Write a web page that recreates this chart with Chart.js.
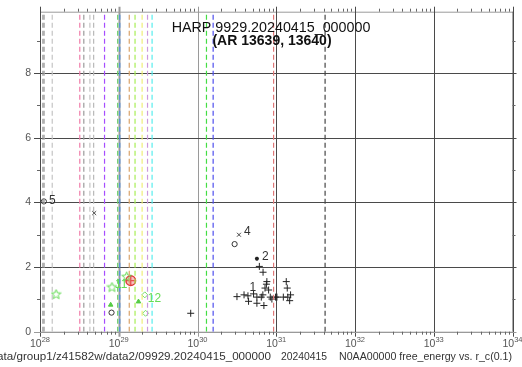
<!DOCTYPE html>
<html>
<head>
<meta charset="utf-8">
<script src="https://cdn.jsdelivr.net/npm/chart.js@4/dist/chart.umd.min.js"></script>
<style>
  html, body { margin: 0; padding: 0; background: #fff; }
  #wrap { width: 522px; height: 367px; position: relative; }
</style>
</head>
<body>
<div id="wrap"><canvas id="c" width="522" height="367"></canvas></div>
<script>
// ---- axis values ----
const xDecades = [1e28, 1e29, 1e30, 1e31, 1e32, 1e33, 1e34];
const xDecadeExp = ['28', '29', '30', '31', '32', '33', '34'];
const yTicks = [0, 2, 4, 6, 8];
const yMinor = [1, 3, 5, 7, 9];
const yMax = 9.9;

// ---- threshold markers (vertical dashed lines) ----
const thresholdX = [1.09e28, 1.13e28, 1.43e28, 3.2e28, 3.6e28, 4.3e28, 4.8e28, 6.6e28,
                    9.7e28, 1.03e29, 1.36e29, 1.61e29, 1.98e29, 2.32e29, 2.65e29,
                    1.30e30, 1.58e30, 9.25e30, 4.17e31];
const thresholdColor = ['#8f8f8f', '#a8a8a8', '#c4c4c4', '#f07aa8', '#9a9a9a', '#c4c4c4', '#b8b8b8', '#a64dff',
                        '#66cc66', '#4f8fe6', '#d9a36a', '#a6ee55', '#eeee77', '#cc99dd', '#55eeee',
                        '#44dd44', '#4d4dee', '#e07777', '#444444'];

// ---- events: free energy vs r_c ----
const plusX = [8.2e29, 6.1e30, 6.8e30, 7.6e30, 7.5e30, 7.2e30, 8.0e30, 3.17e30, 3.9e30, 4.37e30,
               4.45e30, 5.15e30, 5.68e30, 5.68e30, 6.46e30, 6.76e30, 6.97e30, 8.4e30, 8.8e30,
               9.8e30, 1.02e31, 1.23e31, 1.34e31, 1.38e31, 1.4e31, 1.52e31, 1.48e31];
const plusY = [0.57, 2.02, 1.84, 1.55, 1.47, 1.35, 1.29, 1.085, 1.14, 1.11,
               0.94, 1.17, 1.07, 0.88, 1.07, 1.14, 0.81, 1.07, 1.01,
               1.07, 1.07, 1.07, 1.55, 1.35, 1.07, 1.14, 0.96];
const circleX = [1.12e28, 8.1e28, 2.96e30];
const circleY = [4.03, 0.59, 2.71];
const xMarkX = [4.88e28, 3.36e30];
const xMarkY = [3.67, 3.0];
const asteriskX = [5.68e30];
const asteriskY = [2.26];
const starX = [1.6e28, 8.2e28, 1.26e29];
const starY = [1.16, 1.38, 1.705];
const triangleX = [7.9e28, 1.78e29];
const triangleY = [0.83, 0.93];
const diamondX = [2.14e29, 2.19e29];
const diamondY = [1.14, 0.57];
const currentX = [1.42e29];
const currentY = [1.58];

// ---- point annotations ----
const noteText = ['5', '4', '2', '1', '11', '12'];
const noteX = [1.12e28, 3.36e30, 5.68e30, 5.15e30, 8.2e28, 2.14e29];
const noteY = [4.03, 3.0, 2.26, 1.17, 1.38, 1.14];

const pts = (xs, ys) => xs.map((v, i) => ({ x: v, y: ys[i] }));

// outlined five-point star used as a point glyph
function starGlyph(color) {
  const c = document.createElement('canvas');
  c.width = 11; c.height = 11;
  const g = c.getContext('2d');
  g.strokeStyle = color; g.lineWidth = 1;
  g.beginPath();
  for (let k = 0; k < 10; k++) {
    const r = k % 2 === 0 ? 5 : 2.2;
    const ang = -Math.PI / 2 + k * Math.PI / 5;
    const px = 5.5 + r * Math.cos(ang), py = 5.8 + r * Math.sin(ang);
    if (k === 0) g.moveTo(px, py); else g.lineTo(px, py);
  }
  g.closePath();
  g.stroke();
  return c;
}

const datasets = [];
thresholdX.forEach((v, i) => {
  datasets.push({
    data: [{ x: v, y: 0 }, { x: v, y: yMax }],
    showLine: true, borderColor: thresholdColor[i], borderWidth: 1.2,
    borderDash: [5, 3], pointRadius: 0, fill: false
  });
});
datasets.push({ data: pts(plusX, plusY), pointStyle: 'cross', pointRadius: 3.5,
  borderColor: '#222', borderWidth: 1 });
datasets.push({ data: pts(circleX, circleY), pointStyle: 'circle', pointRadius: 2.6,
  borderColor: '#333', backgroundColor: 'rgba(0,0,0,0)', borderWidth: 1 });
datasets.push({ data: pts(xMarkX, xMarkY), pointStyle: 'crossRot', pointRadius: 2.8,
  borderColor: '#444', borderWidth: 1 });
datasets.push({ data: pts(asteriskX, asteriskY), pointStyle: 'star', pointRadius: 2,
  borderColor: '#222', borderWidth: 1.2 });
datasets.push({ data: pts(starX, starY), pointStyle: starGlyph('#5fd94f'), pointRadius: 5 });
datasets.push({ data: pts(triangleX, triangleY), pointStyle: 'triangle', pointRadius: 2.6,
  borderColor: '#55cc44', backgroundColor: '#55cc44', borderWidth: 1 });
datasets.push({ data: pts(diamondX, diamondY), pointStyle: 'rectRot', pointRadius: 3,
  borderColor: '#77dd66', backgroundColor: 'rgba(0,0,0,0)', borderWidth: 1 });
datasets.push({ data: pts(currentX, currentY), pointStyle: 'circle', pointRadius: 4.8,
  borderColor: '#e03a3a', backgroundColor: 'rgba(240,110,110,0.45)', borderWidth: 1.5 });
datasets.push({ data: pts(currentX, currentY), pointStyle: 'cross', pointRadius: 4.8,
  borderColor: '#e03a3a', borderWidth: 1.3 });

const FONT = '"Liberation Sans", Arial, sans-serif';

// Draw text stretched horizontally to span a given width
function fitText(ctx, text, x0, width, yb) {
  const w = ctx.measureText(text).width;
  ctx.save();
  ctx.translate(x0, yb);
  ctx.scale(width / w, 1);
  ctx.textAlign = 'left';
  ctx.fillText(text, 0, 0);
  ctx.restore();
}

// Frame, grid and outward ticks, all placed through the chart scales
const frame = {
  id: 'frame',
  beforeDatasetsDraw(chart) {
    const { ctx, chartArea: a, scales: { x, y } } = chart;
    ctx.save();
    ctx.lineWidth = 1;
    ctx.strokeStyle = '#9a9a9a';
    ctx.beginPath();
    ctx.moveTo(a.left + 0.5, a.bottom + 0.5); ctx.lineTo(a.left + 0.5, a.top + 0.5);
    ctx.lineTo(a.right + 0.5, a.top + 0.5);
    ctx.moveTo(a.left, a.bottom + 0.5); ctx.lineTo(a.right, a.bottom + 0.5);
    ctx.stroke();
    ctx.strokeStyle = '#555';
    ctx.beginPath();
    ctx.moveTo(a.right + 0.5, a.top); ctx.lineTo(a.right + 0.5, a.bottom);
    ctx.stroke();
    xDecades.forEach((v) => {
      const px = Math.round(x.getPixelForValue(v)) + 0.5;
      const light = v < 2e30 && v > 1e28;
      ctx.strokeStyle = light ? '#9a9a9a' : '#4a4a4a';
      ctx.lineWidth = v === 1e29 ? 2 : 1;
      ctx.beginPath();
      ctx.moveTo(px, a.top - 5); ctx.lineTo(px, a.bottom + 5);
      ctx.stroke();
    });
    ctx.lineWidth = 1;
    yTicks.forEach((v) => {
      const py = Math.round(y.getPixelForValue(v)) + 0.5;
      ctx.strokeStyle = v === 0 ? '#9a9a9a' : '#4a4a4a';
      ctx.beginPath();
      ctx.moveTo(a.left - 6, py); ctx.lineTo(a.right + 4, py);
      ctx.stroke();
    });
    ctx.strokeStyle = '#666';
    for (let d = 0; d < xDecades.length - 1; d++) {
      for (let m = 2; m <= 9; m++) {
        const px = Math.round(x.getPixelForValue(xDecades[d] * m)) + 0.5;
        ctx.beginPath();
        ctx.moveTo(px, a.top - 3); ctx.lineTo(px, a.top);
        ctx.moveTo(px, a.bottom); ctx.lineTo(px, a.bottom + 3);
        ctx.stroke();
      }
    }
    yMinor.forEach((v) => {
      const py = Math.round(y.getPixelForValue(v)) + 0.5;
      ctx.beginPath();
      ctx.moveTo(a.left - 3, py); ctx.lineTo(a.left, py);
      ctx.moveTo(a.right, py); ctx.lineTo(a.right + 3, py);
      ctx.stroke();
    });
    ctx.restore();
  },
  afterDraw(chart) {
    const { ctx, chartArea: a, scales: { x, y } } = chart;
    ctx.save();
    ctx.fillStyle = '#555';
    ctx.textBaseline = 'alphabetic';
    xDecades.forEach((v, i) => {
      const px = x.getPixelForValue(v);
      ctx.font = '10.5px ' + FONT;
      const wBase = ctx.measureText('10').width;
      ctx.font = '7.5px ' + FONT;
      const wExp = ctx.measureText(xDecadeExp[i]).width;
      const left = px - (wBase + wExp) / 2;
      ctx.font = '10.5px ' + FONT;
      ctx.textAlign = 'left';
      ctx.fillText('10', left, a.bottom + 15);
      ctx.font = '7.5px ' + FONT;
      ctx.fillText(xDecadeExp[i], left + wBase, a.bottom + 10);
    });
    ctx.font = '10.5px ' + FONT;
    ctx.textAlign = 'right';
    ctx.textBaseline = 'middle';
    yTicks.forEach((v) => {
      ctx.fillText(String(v), a.left - 9, y.getPixelForValue(v));
    });
    const noteStyle = [
      { dx: 5, dy: -1, c: '#333' }, { dx: 5, dy: -3, c: '#333' }, { dx: 5, dy: -2, c: '#333' },
      { dx: -4, dy: -6, c: '#333' }, { dx: 3, dy: -2, c: '#66dd55' }, { dx: 3, dy: 4, c: '#66dd55' }
    ];
    ctx.font = '12px ' + FONT;
    ctx.textAlign = 'left';
    ctx.textBaseline = 'middle';
    noteText.forEach((t, i) => {
      ctx.fillStyle = noteStyle[i].c;
      ctx.fillText(t, x.getPixelForValue(noteX[i]) + noteStyle[i].dx,
                   y.getPixelForValue(noteY[i]) + noteStyle[i].dy);
    });
    ctx.fillStyle = '#111';
    ctx.textAlign = 'center';
    ctx.textBaseline = 'alphabetic';
    ctx.font = '14.3px ' + FONT;
    ctx.fillText('HARP 9929.20240415_000000', 271, 31.5);
    ctx.font = 'bold 14px ' + FONT;
    ctx.fillText('(AR 13639, 13640)', 272, 44.5);
    // footer: path (runs off the left edge), date, and plot description
    ctx.fillStyle = '#333';
    ctx.font = '10.3px ' + FONT;
    const path = '/data/group1/z41582w/data2/09929.20240415_000000';
    const visible = 'ata/group1/z41582w/data2/09929.20240415_000000';
    const wFull = ctx.measureText(path).width, wVis = ctx.measureText(visible).width;
    const s = 274 / wVis;
    fitText(ctx, path, 271 - wFull * s, wFull * s, 360);
    fitText(ctx, '20240415', 281, 46, 360);
    fitText(ctx, 'N0AA00000 free_energy vs. r_c(0.1)', 339, 173, 360);
    ctx.restore();
  }
};

new Chart(document.getElementById('c'), {
  type: 'scatter',
  data: { datasets },
  options: {
    responsive: false,
    animation: false,
    devicePixelRatio: 1,
    layout: { padding: { left: 40, right: 9.5, top: 11.7, bottom: 35.3 } },
    plugins: { legend: { display: false }, tooltip: { enabled: false } },
    scales: {
      x: {
        type: 'logarithmic', min: 1e28, max: 1e34, display: false,
        afterBuildTicks: (s) => { s.ticks = xDecades.map((v) => ({ value: v })); }
      },
      y: {
        type: 'linear', min: 0, max: yMax, display: false,
        afterBuildTicks: (s) => { s.ticks = yTicks.map((v) => ({ value: v })); }
      }
    }
  },
  plugins: [frame]
});
</script>
</body>
</html>
